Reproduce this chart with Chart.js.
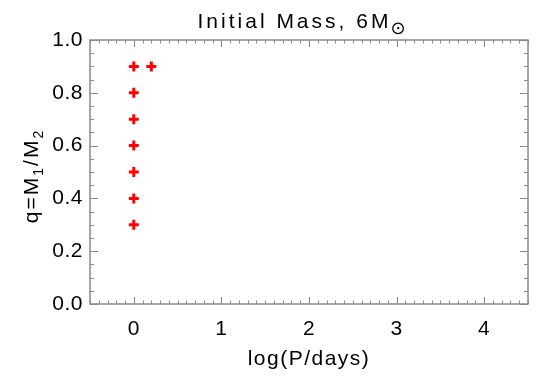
<!DOCTYPE html>
<html><head><meta charset="utf-8">
<script src="https://cdn.jsdelivr.net/npm/chart.js@4/dist/chart.umd.min.js"></script>
<style>html,body{margin:0;padding:0;background:#fff}canvas{display:block}</style>
</head><body>
<canvas id="c" width="540" height="386"></canvas>
<script>
// ---- data ----
const logP = [0, 0, 0, 0, 0, 0, 0, 0.2];
const massRatio = [0.3, 0.4, 0.5, 0.6, 0.7, 0.8, 0.9, 0.9];
const xTickValues = [0, 1, 2, 3, 4];
const yTickValues = [0, 0.2, 0.4, 0.6, 0.8, 1.0];
const xRange = [-0.5, 4.5];
const yRange = [0, 1];
const xMinorStep = 0.1;
const yMinorStep = 0.05;
const titleMain = 'Initial Mass, 6M';
const titleSub = '\u2299';
const xTitle = 'log(P/days)';

const FONT = '"Liberation Sans", Arial, sans-serif';
const SYM_FONT = '"DejaVu Sans", sans-serif';
const AXIS_COLOR = '#8a8a8a';

const points = logP.map((x, i) => ({x: x, y: massRatio[i]}));

const decor = {
  id: 'decor',
  beforeDraw(chart) {
    chart.ctx.letterSpacing = '0.5px';
  },
  afterDraw(chart) {
    const ctx = chart.ctx;
    const a = chart.chartArea;
    const xs = chart.scales.x, ys = chart.scales.y;
    ctx.save();
    ctx.strokeStyle = AXIS_COLOR;
    ctx.lineWidth = 1.5;
    ctx.strokeRect(a.left, a.top, a.right - a.left, a.bottom - a.top);
    ctx.lineWidth = 1;
    ctx.beginPath();
    const nx = Math.round((xRange[1] - xRange[0]) / xMinorStep);
    for (let i = 0; i <= nx; i++) {
      const v = xRange[0] + i * xMinorStep;
      const major = Math.abs(v - Math.round(v)) < 1e-6;
      const len = major ? 7 : 3.5;
      const px = Math.round(xs.getPixelForValue(v)) + 0.5;
      ctx.moveTo(px, a.bottom); ctx.lineTo(px, a.bottom - len);
      ctx.moveTo(px, a.top); ctx.lineTo(px, a.top + len);
    }
    const ny = Math.round((yRange[1] - yRange[0]) / yMinorStep);
    for (let i = 0; i <= ny; i++) {
      const v = yRange[0] + i * yMinorStep;
      const major = Math.abs(v * 5 - Math.round(v * 5)) < 1e-6;
      const len = major ? 8 : 4;
      const py = Math.round(ys.getPixelForValue(v)) + 0.5;
      ctx.moveTo(a.left, py); ctx.lineTo(a.left + len, py);
      ctx.moveTo(a.right, py); ctx.lineTo(a.right - len, py);
    }
    ctx.stroke();

    ctx.fillStyle = '#000';
    ctx.textBaseline = 'alphabetic';
    // title
    ctx.font = '21px ' + FONT;
    ctx.letterSpacing = '3px';
    const wMain = ctx.measureText(titleMain).width;
    ctx.font = '18px ' + SYM_FONT;
    ctx.letterSpacing = '0px';
    const wSub = ctx.measureText(titleSub).width;
    const cx = 302;
    let tx = cx - (wMain + wSub) / 2;
    ctx.font = '21px ' + FONT;
    ctx.letterSpacing = '3px';
    ctx.textAlign = 'left';
    ctx.fillText(titleMain, tx, 28);
    ctx.font = '18px ' + SYM_FONT;
    ctx.letterSpacing = '0px';
    ctx.fillText(titleSub, tx + wMain - 1, 34);

    // x title
    ctx.font = '21px ' + FONT;
    ctx.letterSpacing = '1.5px';
    ctx.textAlign = 'center';
    ctx.fillText(xTitle, (a.left + a.right) / 2, 365);

    // y title: q=M1/M2
    ctx.save();
    ctx.translate(38, (a.top + a.bottom) / 2 + 4);
    ctx.rotate(-Math.PI / 2);
    const parts = [
      {t: 'q=M', s: 21, dy: 0},
      {t: '1', s: 14, dy: 5},
      {t: '/M', s: 21, dy: 0},
      {t: '2', s: 14, dy: 5}
    ];
    ctx.letterSpacing = '2px';
    let total = 0;
    parts.forEach(p => { ctx.font = p.s + 'px ' + FONT; p.w = ctx.measureText(p.t).width; total += p.w; });
    let px = -total / 2;
    ctx.textAlign = 'left';
    parts.forEach(p => { ctx.font = p.s + 'px ' + FONT; ctx.fillText(p.t, px, p.dy); px += p.w; });
    ctx.restore();
    ctx.restore();
  }
};

new Chart(document.getElementById('c'), {
  type: 'scatter',
  data: {
    datasets: [{
      data: points,
      pointStyle: 'cross',
      pointRadius: 5,
      pointHoverRadius: 5,
      borderColor: '#ff0000',
      backgroundColor: '#ff0000',
      borderWidth: 3,
      pointBorderWidth: 3
    }]
  },
  options: {
    responsive: false,
    animation: false,
    devicePixelRatio: 1,
    events: [],
    layout: {padding: {top: 40, right: 12, left: 0, bottom: 0}},
    plugins: {legend: {display: false}, tooltip: {enabled: false}, title: {display: false}},
    scales: {
      x: {
        type: 'linear',
        min: xRange[0], max: xRange[1],
        grid: {display: false, drawTicks: false},
        border: {display: false},
        afterBuildTicks: s => { s.ticks = xTickValues.map(v => ({value: v})); },
        afterFit: s => { s.height = 82; },
        ticks: {
          color: '#000', padding: 13, maxRotation: 0, autoSkip: false,
          font: {family: FONT, size: 21},
          callback: v => String(v)
        }
      },
      y: {
        type: 'linear',
        min: yRange[0], max: yRange[1],
        grid: {display: false, drawTicks: false},
        border: {display: false},
        afterBuildTicks: s => { s.ticks = yTickValues.map(v => ({value: v})); },
        afterFit: s => { s.width = 90; },
        ticks: {
          color: '#000', padding: 7, autoSkip: false,
          font: {family: FONT, size: 21},
          callback: v => Number(v).toFixed(1)
        }
      }
    }
  },
  plugins: [decor]
});
</script>
</body></html>
